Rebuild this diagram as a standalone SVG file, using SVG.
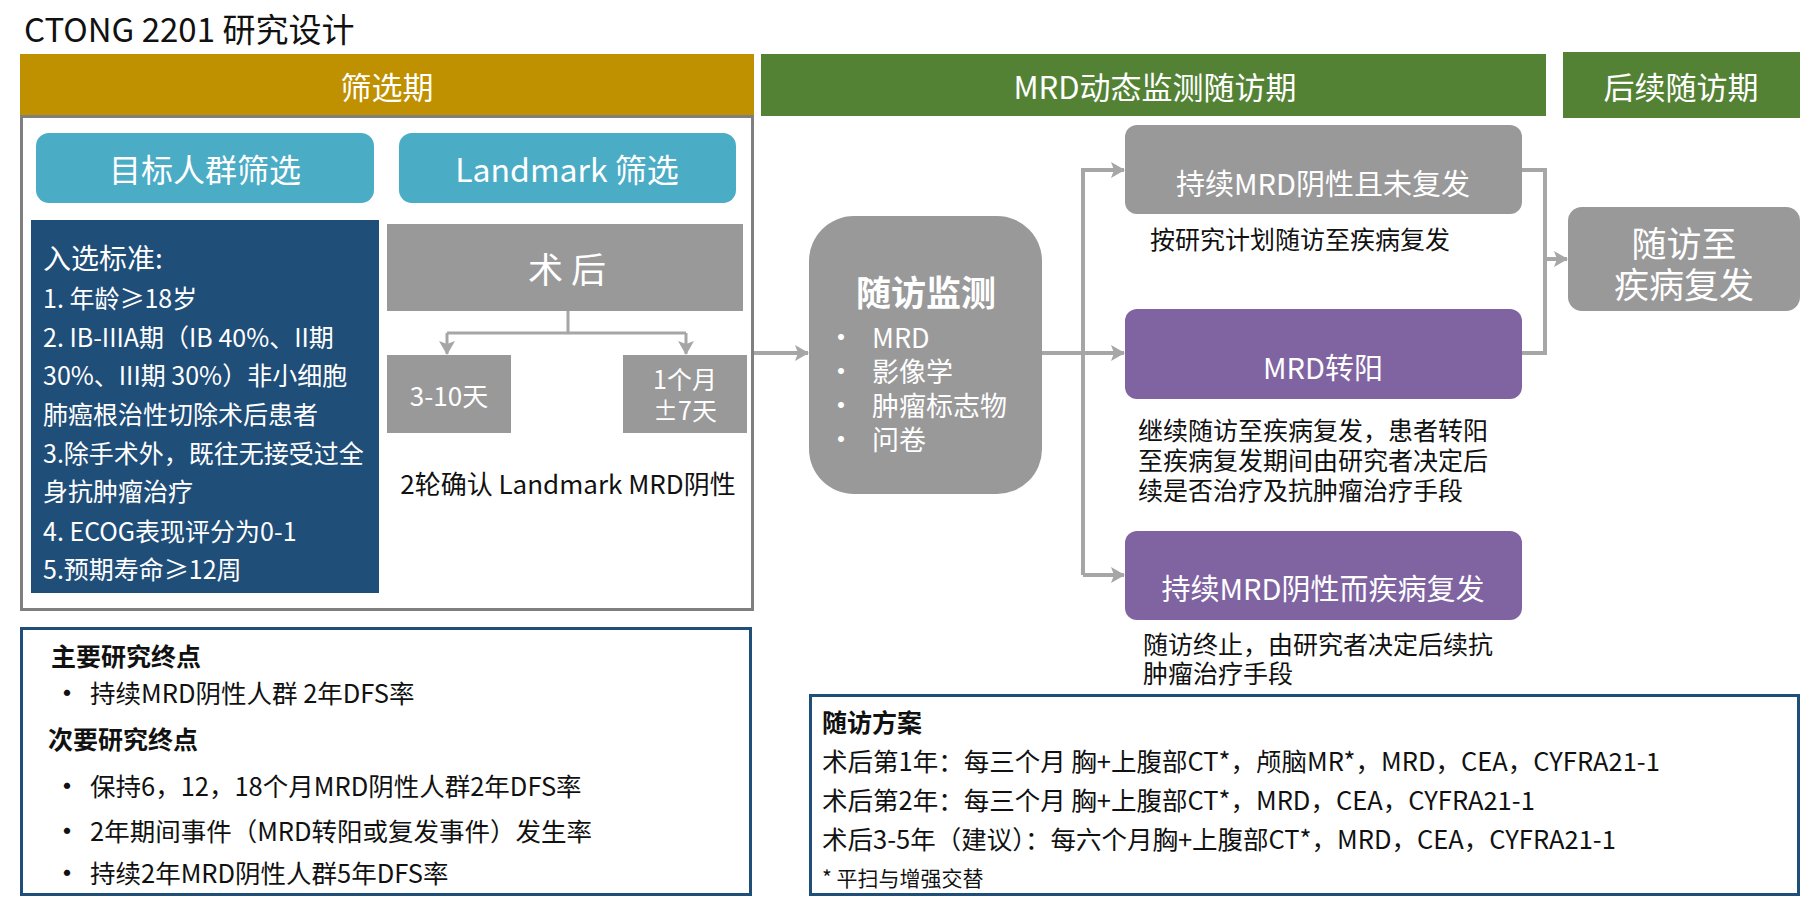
<svg xmlns="http://www.w3.org/2000/svg" width="1817" height="911" viewBox="0 0 1817 911">
<defs>
<style>
text{font-family:"Noto Sans CJK SC","Microsoft YaHei","Noto Sans",sans-serif;dominant-baseline:central}
.w{fill:#fff}
.k{fill:#111}
.c{text-anchor:middle}
.b{font-weight:bold}
.gray{fill:#999999}
.conn{fill:none;stroke:#A6A6A6;stroke-width:4}
</style>
<marker id="ah" markerUnits="userSpaceOnUse" markerWidth="14" markerHeight="16" viewBox="0 0 14 16" refX="13" refY="8" orient="auto">
<path d="M0,0 L14,8 L0,16 L3,8 z" fill="#A6A6A6"/>
</marker>
</defs>
<rect width="1817" height="911" fill="#fff"/>
<text x="24" y="28" font-size="33" class="k">CTONG 2201 研究设计</text>

<g id="hdr-screen"><rect x="20" y="54" width="734" height="61" fill="#BF9000"/><text x="387" y="85" font-size="31" class="w c">筛选期</text></g>
<g id="hdr-mrd"><rect x="761" y="54" width="785" height="62" fill="#548235"/><text x="1155" y="85" font-size="31" class="w c">MRD动态监测随访期</text></g>
<g id="hdr-follow"><rect x="1563" y="52" width="237" height="66" fill="#548235"/><text x="1681" y="85" font-size="31" class="w c">后续随访期</text></g>

<g id="screen-frame"><rect x="21.5" y="116.5" width="731" height="493" fill="none" stroke="#7F7F7F" stroke-width="3"/></g>

<g id="target"><rect x="36" y="133" width="338" height="70" rx="13" fill="#4BACC6"/><text x="205" y="168" font-size="32" class="w c">目标人群筛选</text></g>
<g id="landmark"><rect x="399" y="133" width="337" height="70" rx="13" fill="#4BACC6"/><text x="567" y="168" font-size="32" class="w c">Landmark 筛选</text></g>

<g id="criteria"><rect x="31" y="220" width="348" height="373" fill="#1F4E79"/>
<text class="w" x="43" font-size="28"><tspan y="257">入选标准:</tspan></text>
<text class="w" x="43" font-size="25">
<tspan x="43" y="297">1. 年龄≥18岁</tspan>
<tspan x="43" y="336">2. IB-IIIA期（IB 40%、II期</tspan>
<tspan x="43" y="374">30%、III期 30%）非小细胞</tspan>
<tspan x="43" y="413">肺癌根治性切除术后患者</tspan>
<tspan x="43" y="452">3.除手术外，既往无接受过全</tspan>
<tspan x="43" y="490">身抗肿瘤治疗</tspan>
<tspan x="43" y="530">4. ECOG表现评分为0-1</tspan>
<tspan x="43" y="568">5.预期寿命≥12周</tspan>
</text></g>

<g id="postop"><rect x="387" y="224" width="356" height="87" class="gray"/><text x="567" y="267" font-size="35" class="w c">术 后</text></g>
<g id="d3-10"><rect x="387" y="355" width="124" height="78" class="gray"/><text x="449" y="394" font-size="26" class="w c">3-10天</text></g>
<g id="m1"><rect x="623" y="355" width="124" height="78" class="gray"/><text x="685" y="378" font-size="25" class="w c">1个月</text><text x="685" y="409" font-size="25" class="w c">±7天</text></g>
<text x="568" y="482" font-size="26" class="k c">2轮确认 Landmark MRD阴性</text>

<g id="endpoints"><rect x="21.5" y="628.5" width="729" height="266" fill="none" stroke="#1F4E79" stroke-width="3"/>
<text x="51" y="655" font-size="25" class="k b">主要研究终点</text>
<text x="52" y="691" font-size="30" class="k">•</text><text x="90" y="691" font-size="25.5" class="k">持续MRD阴性人群 2年DFS率</text>
<text x="48" y="738" font-size="25" class="k b">次要研究终点</text>
<text x="52" y="784" font-size="30" class="k">•</text><text x="90" y="784" font-size="25.5" class="k">保持6，12，18个月MRD阴性人群2年DFS率</text>
<text x="52" y="829" font-size="30" class="k">•</text><text x="90" y="829" font-size="25.5" class="k">2年期间事件（MRD转阳或复发事件）发生率</text>
<text x="52" y="871" font-size="30" class="k">•</text><text x="90" y="871" font-size="25.5" class="k">持续2年MRD阴性人群5年DFS率</text>
</g>

<g id="monitor"><rect x="809" y="216" width="233" height="278" rx="45" class="gray"/>
<text x="926" y="290" font-size="35" class="w c b">随访监测</text>
<text font-size="28" class="w"><tspan x="827" y="336">•</tspan><tspan x="827" y="370">•</tspan><tspan x="827" y="404">•</tspan><tspan x="827" y="438">•</tspan></text>
<text font-size="27" class="w"><tspan x="872" y="336">MRD</tspan><tspan x="872" y="370">影像学</tspan><tspan x="872" y="404">肿瘤标志物</tspan><tspan x="872" y="438">问卷</tspan></text>
</g>

<g id="neg"><rect x="1125" y="125" width="397" height="89" rx="12" class="gray"/><text x="1323" y="182" font-size="29" class="w c">持续MRD阴性且未复发</text></g>
<text x="1150" y="238" font-size="25" class="k">按研究计划随访至疾病复发</text>
<g id="pos"><rect x="1125" y="309" width="397" height="90" rx="12" fill="#8064A2"/><text x="1323" y="366" font-size="29" class="w c">MRD转阳</text></g>
<text font-size="25" class="k"><tspan x="1138" y="429">继续随访至疾病复发，患者转阳</tspan><tspan x="1138" y="459">至疾病复发期间由研究者决定后</tspan><tspan x="1138" y="489">续是否治疗及抗肿瘤治疗手段</tspan></text>
<g id="relapse"><rect x="1125" y="531" width="397" height="89" rx="12" fill="#8064A2"/><text x="1323" y="587" font-size="29" class="w c">持续MRD阴性而疾病复发</text></g>
<text font-size="25" class="k"><tspan x="1143" y="643">随访终止，由研究者决定后续抗</tspan><tspan x="1143" y="672">肿瘤治疗手段</tspan></text>

<g id="untilrel"><rect x="1568" y="207" width="232" height="104" rx="14" class="gray"/><text x="1684" y="241" font-size="35" class="w c">随访至</text><text x="1684" y="282" font-size="35" class="w c">疾病复发</text></g>

<g id="plan"><rect x="810.5" y="695.5" width="988" height="199" fill="none" stroke="#1F4E79" stroke-width="3"/>
<text x="822" y="721" font-size="25" class="k b">随访方案</text>
<text x="822" y="759" font-size="25.5" class="k">术后第1年：每三个月 胸+上腹部CT*，颅脑MR*，MRD，CEA，CYFRA21-1</text>
<text x="822" y="798" font-size="25.5" class="k">术后第2年：每三个月 胸+上腹部CT*，MRD，CEA，CYFRA21-1</text>
<text x="822" y="837" font-size="25.5" class="k">术后3-5年（建议）：每六个月胸+上腹部CT*，MRD，CEA，CYFRA21-1</text>
<text x="822" y="877" font-size="21" class="k">* 平扫与增强交替</text>
</g>

<g id="connectors">
<path class="conn" d="M568,311 V333 M447,333 H686" style="stroke-width:3"/>
<path class="conn" d="M447,333 V354" style="stroke-width:3" marker-end="url(#ah)"/>
<path class="conn" d="M686,333 V354" style="stroke-width:3" marker-end="url(#ah)"/>
<path class="conn" d="M754,353 H808" marker-end="url(#ah)"/>
<path class="conn" d="M1042,353 H1124" marker-end="url(#ah)"/>
<path class="conn" d="M1083,575 V170 H1124" marker-end="url(#ah)"/>
<path class="conn" d="M1083,575 H1124" marker-end="url(#ah)"/>
<path class="conn" d="M1522,170 H1545 V353 H1522"/>
<path class="conn" d="M1545,259 H1567" marker-end="url(#ah)"/>
</g>
</svg>
